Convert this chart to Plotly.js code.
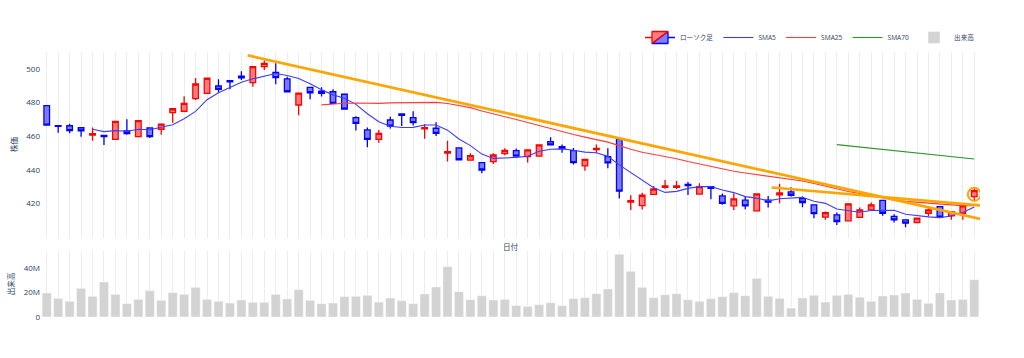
<!DOCTYPE html>
<html>
<head>
<meta charset="utf-8">
<script src="https://cdn.plot.ly/plotly-3.0.1.min.js"></script>
<style>html,body{margin:0;padding:0;background:#fff;}#chart{width:1024px;height:358px;}</style>
</head>
<body>
<div id="chart"></div>
<script>
// Daily OHLC, index 0..81
const openP = [478.2,466.3,466.3,465.1,460.8,460.6,458.2,463.2,459.8,465.0,
  464.2,474.1,474.9,482.4,485.5,489.9,493.1,495.8,491.9,501.4,
  498.0,494.1,478.6,489.1,486.9,486.5,485.0,471.1,463.8,458.2,
  469.7,473.3,471.1,464.4,464.8,450.1,453.1,445.9,444.4,445.0,
  449.7,451.5,447.9,448.3,456.8,453.9,451.5,442.4,452.1,447.9,
  458.4,421.0,418.8,425.5,429.7,429.7,431.5,425.7,430.1,424.6,
  418.7,422.1,415.7,422.1,425.2,427.0,423.0,419.3,412.0,413.4,
  409.8,411.8,416.3,421.9,412.4,410.4,408.8,414.3,418.3,412.8,
  414.3,424.2];
const highP = [478.5,466.5,467.5,465.3,465.3,460.8,469.0,470.1,469.5,465.2,
  467.5,476.8,483.8,494.7,494.8,493.9,493.3,498.6,501.6,505.0,
  503.4,495.4,485.9,489.3,489.1,487.9,485.2,472.0,465.3,463.8,
  471.7,473.5,474.9,467.3,468.3,457.4,453.3,449.9,444.8,449.9,
  452.9,452.7,452.1,455.2,459.4,455.2,453.0,446.5,455.2,452.9,
  458.6,425.0,426.5,430.5,434.1,433.5,432.9,432.1,430.5,426.1,
  426.2,424.2,426.0,424.6,431.8,429.8,424.2,419.6,415.3,414.7,
  420.0,417.7,420.7,422.1,413.7,410.6,411.6,417.3,418.5,415.5,
  418.9,429.2];
const lowP = [466.5,462.2,461.8,459.8,457.4,454.9,458.0,461.0,459.6,459.0,
  461.0,468.1,474.3,481.6,485.3,486.1,487.9,493.5,489.5,499.4,
  490.9,486.1,472.5,482.0,483.6,479.4,476.0,463.4,453.5,456.2,
  464.6,466.1,466.5,458.6,460.2,445.1,446.0,445.7,438.0,443.6,
  448.7,448.1,444.4,448.1,454.7,450.3,443.2,439.6,449.9,441.0,
  423.0,416.2,416.6,425.3,428.9,428.7,425.1,425.5,422.6,419.4,
  416.3,416.7,415.5,417.7,420.3,424.2,417.9,411.4,410.4,407.4,
  409.6,411.6,415.7,412.8,408.8,406.0,408.6,412.4,411.8,410.4,
  410.4,421.3];
const closeP = [466.7,466.0,463.4,463.2,461.6,459.8,468.9,461.6,469.3,459.8,
  467.3,476.4,479.6,491.1,494.5,487.9,492.3,494.7,501.4,503.4,
  494.9,486.5,485.7,485.9,485.5,479.6,476.2,467.7,458.2,461.8,
  466.1,472.5,468.1,465.1,461.8,450.9,446.1,448.5,440.0,448.9,
  451.7,448.3,451.9,454.9,454.9,452.7,444.4,446.3,452.9,444.2,
  427.5,421.8,425.0,428.7,430.5,430.5,430.7,430.1,429.1,420.2,
  422.8,418.7,425.8,420.9,426.4,425.0,420.7,414.1,414.7,409.4,
  419.9,416.3,419.3,414.3,410.4,408.4,411.4,416.3,412.0,415.3,
  418.7,427.8];
// Volume in millions of shares
const volumeM = [19.6,15.2,12.8,23.4,16.9,28.6,18.5,10.9,14.4,21.5,
  13.6,19.9,18.5,24.2,14.4,12.8,11.4,13.9,12.0,12.0,
  18.5,14.7,22.3,13.6,10.9,11.4,16.6,16.9,17.7,12.2,
  15.5,13.3,10.9,18.8,24.5,41.1,20.7,14.1,17.4,13.9,
  14.4,9.4,8.7,10.1,11.7,9.3,15.0,15.8,19.0,22.9,
  51.2,37.3,24.2,15.8,18.2,19.0,14.1,12.8,15.0,16.6,
  19.9,17.4,31.6,16.9,15.2,7.3,15.5,17.7,12.2,17.7,
  18.5,16.1,12.8,17.1,18.0,19.6,14.4,11.2,19.6,13.9,
  14.4,30.5];
// Price axis ticks
const priceTicks = [420, 440, 460, 480, 500];
// Trend lines and highlighted last candle
const trendA_x = [17.55, 81.6], trendA_y = [508.1, 410.8];
const trendB_x = [63.3, 81.7], trendB_y = [429.6, 418.9];
const mark_x = [81], mark_y = [425.6];

const dayIdx = closeP.map((_, i) => i);
const volume = volumeM.map(v => v * 1e6);
function sma(arr, n) {
  return arr.map((_, i) => {
    if (i < n - 1) return null;
    let s = 0; for (let k = i - n + 1; k <= i; k++) s += arr[k];
    return s / n;
  });
}

const FONT = '"Open Sans", "Noto Sans CJK JP", sans-serif';
const traces = [
  {type:'candlestick', name:'ローソク足', x:dayIdx, open:openP, high:highP, low:lowP, close:closeP,
   increasing:{line:{color:'red', width:1.3}}, decreasing:{line:{color:'blue', width:1.3}},
   xaxis:'x', yaxis:'y'},
  {type:'scatter', mode:'lines', name:'SMA5', x:dayIdx, y:sma(closeP,5), line:{color:'#3c3cff', width:1.1}},
  {type:'scatter', mode:'lines', name:'SMA25', x:dayIdx, y:sma(closeP,25), line:{color:'#ff3c3c', width:1.1}},
  {type:'scatter', mode:'lines', name:'SMA70', x:dayIdx, y:sma(closeP,70), line:{color:'#2a962a', width:1.1}},
  {type:'bar', name:'出来高', x:dayIdx, y:volume, xaxis:'x2', yaxis:'y2',
   marker:{color:'lightgray', line:{color:'white', width:0.4}}},
  {type:'scatter', mode:'lines', x:trendA_x, y:trendA_y, showlegend:false, line:{color:'orange', width:2.7}},
  {type:'scatter', mode:'lines', x:trendB_x, y:trendB_y, showlegend:false, line:{color:'orange', width:2.7}},
  {type:'scatter', mode:'markers', x:mark_x, y:mark_y, showlegend:false,
   marker:{symbol:'circle-open', size:13, color:'orange', line:{width:2, color:'orange'}}}
];

const gridC = '#ebedf0';
const layout = {
  width:1024, height:358,
  margin:{l:41, r:44, t:52, b:41},
  paper_bgcolor:'white', plot_bgcolor:'white',
  font:{family:FONT, size:8, color:'#2a3f5f'},
  showlegend:true,
  legend:{orientation:'h', x:1, xanchor:'right', y:1, yanchor:'bottom', font:{size:6.6, color:'#2a3f5f'},
          traceorder:'normal'},
  xaxis:{domain:[0,1], anchor:'y', type:'linear', range:[-0.5,81.5], tickmode:'linear', tick0:0, dtick:1,
         showticklabels:false, showgrid:true, gridcolor:gridC, gridwidth:1, zeroline:false, showline:false,
         rangeslider:{visible:false}, title:{text:'日付', font:{size:7.6, color:'#2a3f5f'}, standoff:7}},
  yaxis:{domain:[0.3,1], anchor:'x', range:[399.9,510.1], tickmode:'array', tickvals:priceTicks, showgrid:false, zeroline:false,
         tickfont:{size:8}, title:{text:'株価', font:{size:7.6}, standoff:7}},
  xaxis2:{domain:[0,1], anchor:'y2', type:'linear', range:[-0.5,81.5], matches:'x', tickmode:'linear', tick0:0, dtick:1,
          showticklabels:false, showgrid:true, gridcolor:gridC, gridwidth:1, zeroline:false, showline:false},
  yaxis2:{domain:[0,0.25], anchor:'x2', range:[0,54.1e6], dtick:20e6, showgrid:false, zeroline:false,
          tickfont:{size:8}, title:{text:'出来高', font:{size:7.6}, standoff:7}},
  bargap:0.2
};
Plotly.newPlot('chart', traces, layout, {displayModeBar:false, staticPlot:true});
</script>
</body>
</html>
